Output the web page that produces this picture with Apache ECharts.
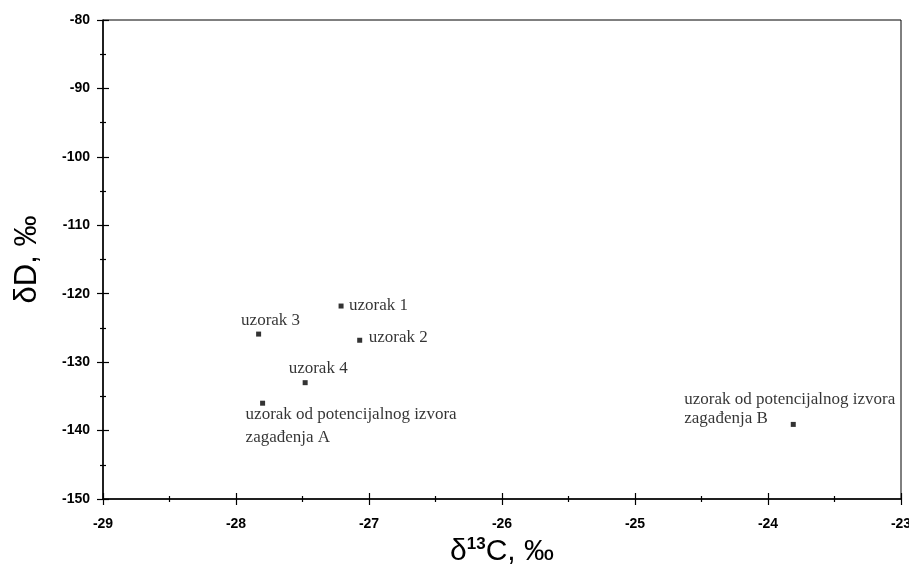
<!DOCTYPE html>
<html>
<head>
<meta charset="utf-8">
<script src="https://cdn.jsdelivr.net/npm/echarts@6/dist/echarts.min.js"></script>
<style>html,body{margin:0;padding:0;background:#fff}#c{width:909px;height:567px}</style>
</head>
<body>
<div id="c"></div>
<script>
const sampleNames = ['uzorak 1', 'uzorak 2', 'uzorak 3', 'uzorak 4',
  'uzorak od potencijalnog izvora\nzagađenja A', 'uzorak od potencijalnog izvora\nzagađenja B'];
const d13C = [-27.21, -27.07, -27.83, -27.48, -27.80, -23.81];
const dD = [-121.8, -126.8, -125.9, -133.0, -136.0, -139.1];
const xTicks = [-29, -28, -27, -26, -25, -24, -23];
const yTicks = [-150, -140, -130, -120, -110, -100, -90, -80];

const labelStyles = [
  { align: 'left', verticalAlign: 'middle', offset: [8, -1] },
  { align: 'left', verticalAlign: 'middle', offset: [9, -3] },
  { align: 'center', verticalAlign: 'middle', offset: [12, -14] },
  { align: 'center', verticalAlign: 'middle', offset: [13, -14] },
  { align: 'left', verticalAlign: 'top', offset: [-17, 0], lineHeight: 23 },
  { align: 'left', verticalAlign: 'top', offset: [-109, -34], lineHeight: 19 }
];

const data = d13C.map((x, i) => ({
  value: [x, dD[i]],
  name: sampleNames[i],
  label: Object.assign({ show: true, position: ['50%', '50%'], formatter: '{b}' }, labelStyles[i])
}));

const tickFont = { color: '#000', fontFamily: 'Liberation Sans', fontSize: 14, fontWeight: 'bold' };
const axisLineStyle = { color: '#000', width: 1.5 };

function baseX(extra) {
  return Object.assign({
    type: 'value', min: xTicks[0], max: xTicks[xTicks.length - 1], interval: 1,
    position: 'bottom', splitLine: { show: false },
    minorSplitLine: { show: false }
  }, extra);
}
function baseY(extra) {
  return Object.assign({
    type: 'value', min: yTicks[0], max: yTicks[yTicks.length - 1], interval: 10,
    position: 'left', splitLine: { show: false },
    minorSplitLine: { show: false }
  }, extra);
}

const chart = echarts.init(document.getElementById('c'), null, { renderer: 'canvas' });
chart.setOption({
  animation: false,
  backgroundColor: '#fff',
  grid: { left: 103, right: 8, top: 20, bottom: 68, show: true, borderColor: '#000', borderWidth: 1,
          containLabel: false, outerBoundsMode: 'none' },
  xAxis: [
    baseX({
      name: '{d|δ}{s|13}{d|C, ‰}', nameLocation: 'middle', nameGap: 28,
      nameTextStyle: {
        rich: {
          d: { fontFamily: 'Liberation Sans', fontSize: 30, color: '#000', verticalAlign: 'bottom' },
          s: { fontFamily: 'Liberation Sans', fontSize: 17, fontWeight: 'bold', color: '#000', verticalAlign: 'top', padding: [0, 0, 14, 0] }
        }
      },
      axisLine: { show: true, onZero: false, lineStyle: axisLineStyle },
      axisTick: { show: true, inside: false, length: 6, lineStyle: { color: '#000', width: 1.2 } },
      minorTick: { show: true, splitNumber: 2, length: 3, lineStyle: { color: '#000', width: 1.2 } },
      axisLabel: Object.assign({ margin: 18 }, tickFont)
    }),
    baseX({
      axisLine: { show: false, onZero: false },
      axisTick: { show: true, inside: true, length: 6, lineStyle: { color: '#000', width: 1.2 } },
      minorTick: { show: true, splitNumber: 2, length: 3, lineStyle: { color: '#000', width: 1.2 } },
      axisLabel: { show: false }
    })
  ],
  yAxis: [
    baseY({
      name: 'δD, ‰', nameLocation: 'middle', nameGap: 60,
      nameTextStyle: { fontFamily: 'Liberation Sans', fontSize: 31, color: '#000' },
      axisLine: { show: true, onZero: false, lineStyle: axisLineStyle },
      axisTick: { show: true, inside: false, length: 6, lineStyle: { color: '#000', width: 1.2 } },
      minorTick: { show: true, splitNumber: 2, length: 3, lineStyle: { color: '#000', width: 1.2 } },
      axisLabel: Object.assign({ margin: 13 }, tickFont)
    }),
    baseY({
      axisLine: { show: false, onZero: false },
      axisTick: { show: true, inside: true, length: 6, lineStyle: { color: '#000', width: 1.2 } },
      minorTick: { show: true, splitNumber: 2, length: 3, lineStyle: { color: '#000', width: 1.2 } },
      axisLabel: { show: false }
    })
  ],
  series: [{
    type: 'scatter',
    xAxisIndex: 0, yAxisIndex: 0,
    symbol: 'rect', symbolSize: 5,
    itemStyle: { color: '#000' },
    label: { fontFamily: 'Liberation Serif', fontSize: 17, color: '#000' },
    emphasis: { disabled: true },
    data: data
  }]
});
</script>
</body>
</html>
